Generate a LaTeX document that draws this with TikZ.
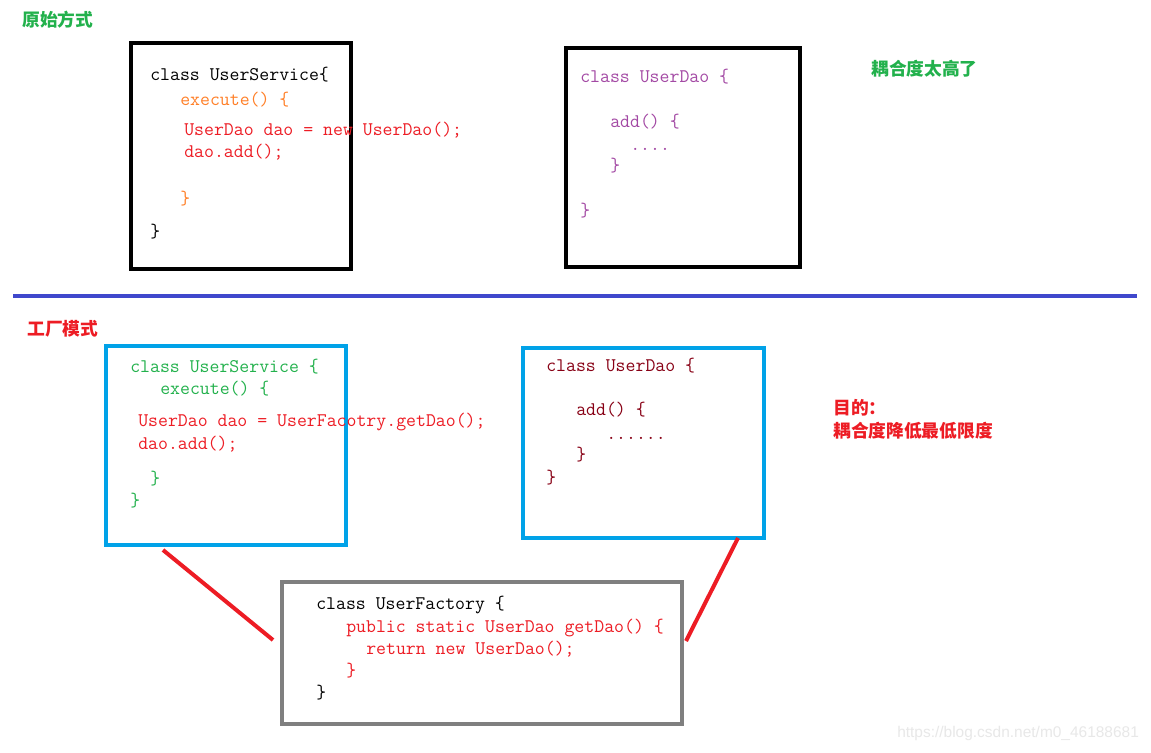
\documentclass[tikz,border=0pt]{standalone}
\usepackage{fontspec}
\newfontfamily\cjk{Noto Sans CJK SC}
\newfontfamily\wmfont{Liberation Sans}
\usetikzlibrary{fit}
\definecolor{cOrange}{RGB}{255,127,39}
\definecolor{cRed}{RGB}{237,28,36}
\definecolor{cPurple}{RGB}{163,73,164}
\definecolor{cGreen}{RGB}{34,177,76}
\definecolor{cDarkRed}{RGB}{136,0,21}
\definecolor{cBlue}{RGB}{0,162,232}
\definecolor{cDivider}{RGB}{63,72,204}
\definecolor{cGray}{RGB}{127,127,127}
\begin{document}
\begin{tikzpicture}[x=0.75pt,y=-0.75pt,
  box/.style={draw, line width=3pt, inner sep=0pt},
  code/.style={anchor=west, inner sep=0pt, font=\ttfamily\fontsize{14.45}{16}\selectfont, text height=0.6em, text depth=0.1em},
  cn/.style={anchor=west, inner sep=0pt, font=\cjk\bfseries\fontsize{13.3}{15}\selectfont},
  link/.style={draw=cRed, line width=3pt}]
\useasboundingbox (0,0) rectangle (1151,752);
\fill[white] (0,0) rectangle (1151,752);

% section titles
\node[cn, text=cGreen] (t1) at (22,20) {原始方式};
\node[cn, text=cGreen] (t2) at (871,69) {耦合度太高了};
\node[cn, text=cRed] (t3) at (27,329) {工厂模式};
\node[cn, text=cRed] (t4) at (833,408) {目的：};
\node[cn, text=cRed] (t5) at (833,431) {耦合度降低最低限度};

% boxes
\node[box, draw=black, fit={(131,43) (351,269)}] (svcA) {};
\node[box, draw=black, fit={(566,48) (800,267)}] (daoA) {};
\node[box, draw=cBlue, fit={(106,346) (346,545)}] (svcB) {};
\node[box, draw=cBlue, fit={(523,348) (764,538)}] (daoB) {};
\node[box, draw=cGray, fit={(282,582) (682,724)}] (fac) {};

% divider
\coordinate (d1) at (13,296);
\coordinate (d2) at (1137,296);
\draw[draw=cDivider, line width=3pt] (d1) -- (d2);

% top-left code
\node[code, text=black] at (150,77) {class UserService\{};
\node[code, text=cOrange] at (180,102) {execute() \{};
\node[code, text=cRed] at (184,132) {UserDao dao = new UserDao();};
\node[code, text=cRed] at (184,154) {dao.add();};
\node[code, text=cOrange] at (180,201) {\}};
\node[code, text=black] at (150,234) {\}};

% top-right code
\node[code, text=cPurple] at (580,79) {class UserDao \{};
\node[code, text=cPurple] at (610,124) {add() \{};
\node[code, text=cPurple] at (630,147) {....};
\node[code, text=cPurple] at (610,168) {\}};
\node[code, text=cPurple] at (580,213) {\}};

% bottom-left code
\node[code, text=cGreen] at (130,369) {class UserService \{};
\node[code, text=cGreen] at (160,391) {execute() \{};
\node[code, text=cRed] at (138,423) {UserDao dao = UserFacotry.getDao();};
\node[code, text=cRed] at (138,446) {dao.add();};
\node[code, text=cGreen] at (150,481) {\}};
\node[code, text=cGreen] at (130,503) {\}};

% bottom-right code
\node[code, text=cDarkRed] at (546,368) {class UserDao \{};
\node[code, text=cDarkRed] at (576,412) {add() \{};
\node[code, text=cDarkRed] at (606,436) {......};
\node[code, text=cDarkRed] at (576,457) {\}};
\node[code, text=cDarkRed] at (546,480) {\}};

% factory code
\node[code, text=black] at (316,606) {class UserFactory \{};
\node[code, text=cRed] at (346,629) {public static UserDao getDao() \{};
\node[code, text=cRed] at (366,651) {return new UserDao();};
\node[code, text=cRed] at (346,673) {\}};
\node[code, text=black] at (316,695) {\}};

% connectors
\coordinate (l1) at (163,550);
\coordinate (l2) at (273,640);
\coordinate (r1) at (738,538);
\coordinate (r2) at (686,641);
\draw[link] (l1) -- (l2);
\draw[link] (r1) -- (r2);

% watermark
\node[anchor=west, inner sep=0pt, text=black!9, font=\wmfont\fontsize{11.6}{13}\selectfont] (wm) at (897,733) {https://blog.csdn.net/m0\_46188681};
\end{tikzpicture}
\end{document}
